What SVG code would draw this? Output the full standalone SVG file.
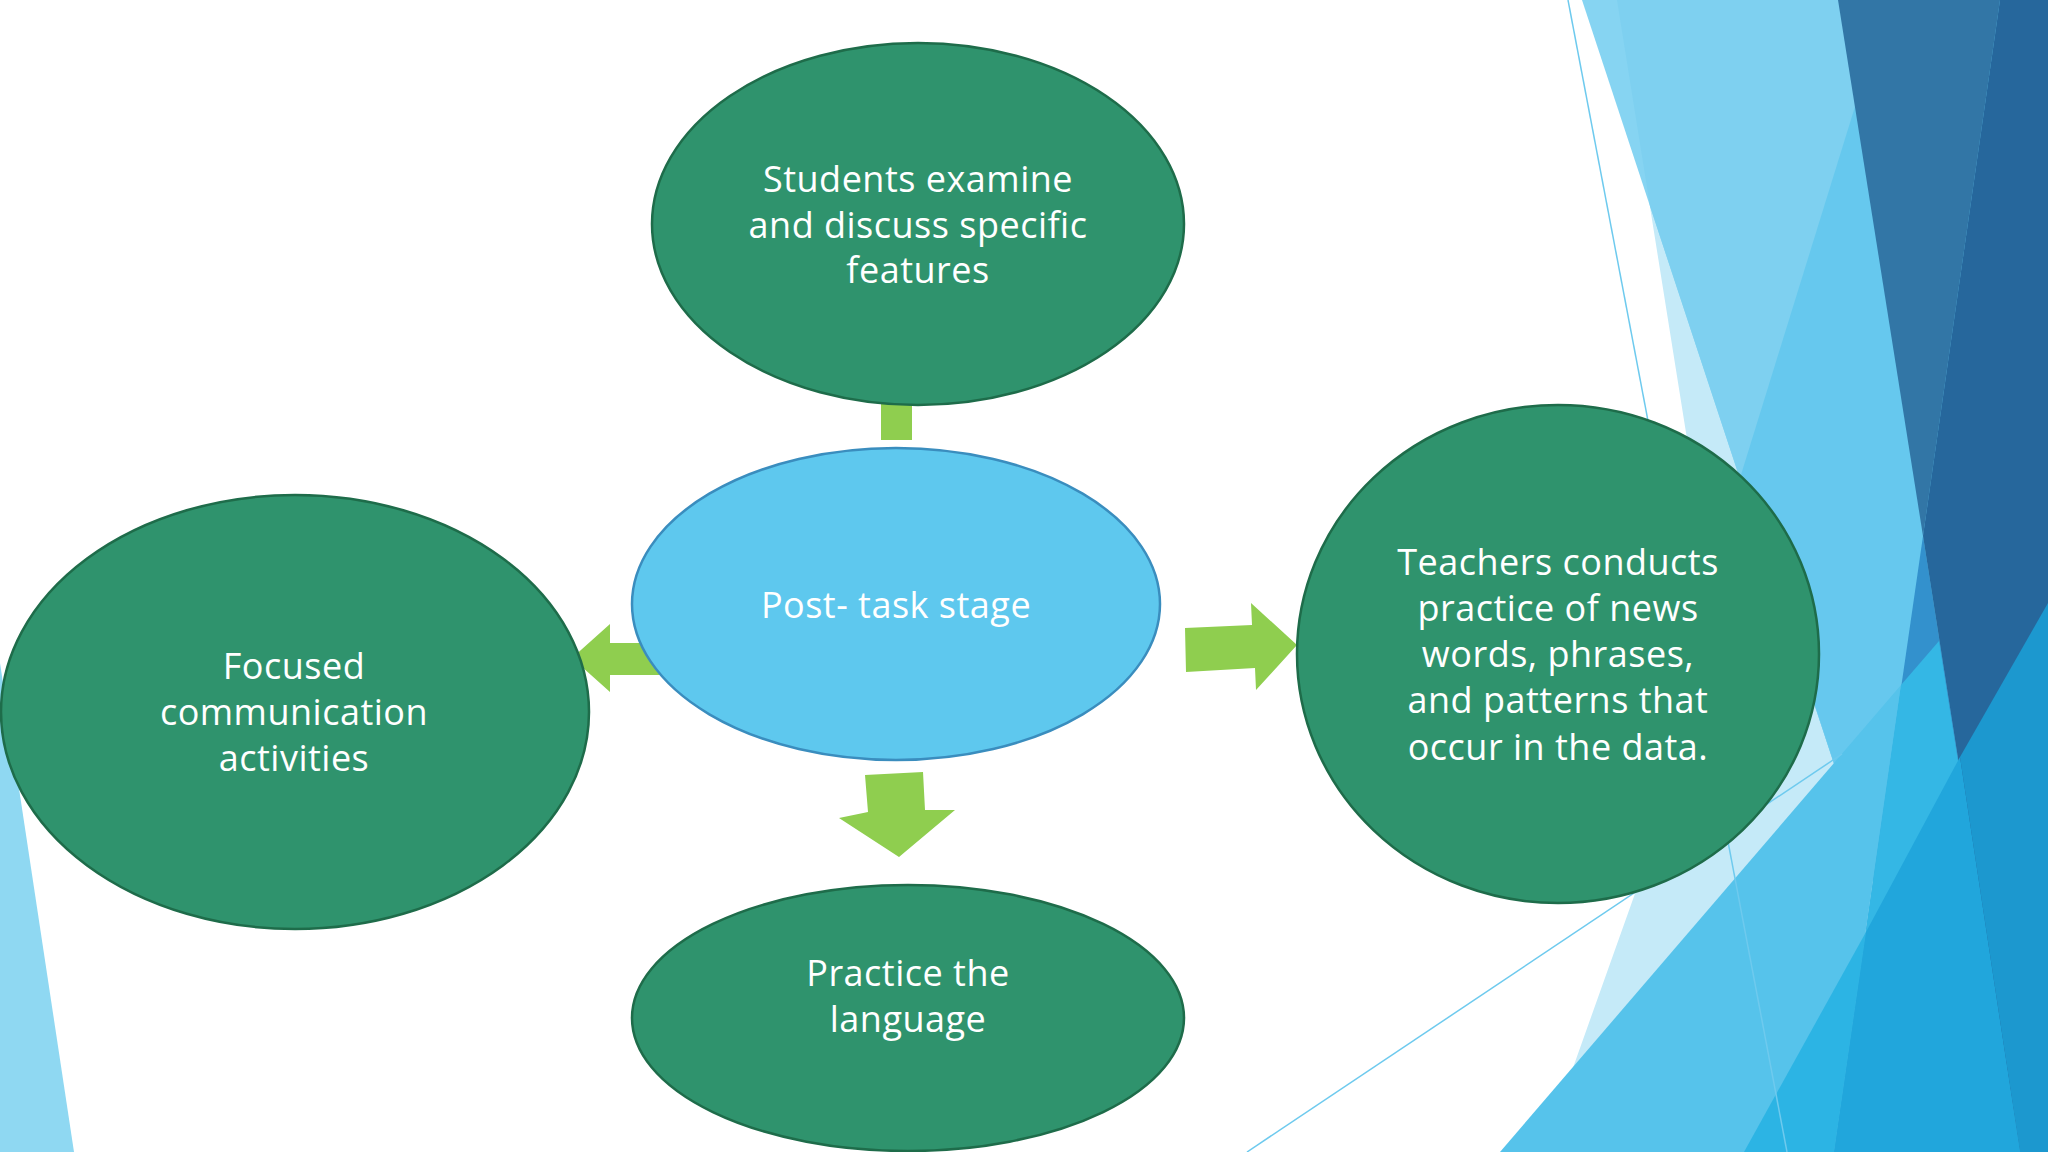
<svg xmlns="http://www.w3.org/2000/svg" width="2048" height="1152" viewBox="0 0 2048 1152">
<style>
.node{fill:#2f936d;stroke:#1e6c4a;stroke-width:2.5}
.center{fill:#5ec8ee;stroke:#3a8dbe;stroke-width:2.5}
.lbl{font-family:"Open Sans","Noto Sans","DejaVu Sans",sans-serif;font-size:36px;letter-spacing:0.5px;fill:#ffffff;text-anchor:middle}
.arrow{fill:#8fce4f}
.thin{stroke:#6ecaee;stroke-width:1.5;fill:none}
</style>
<rect x="0" y="0" width="2048" height="1152" fill="#ffffff"/>
<g id="background">
<polygon points="0,663 74,1152 0,1152" fill="#8fd8f2"/>
<polygon points="1617,0 1721,652 1543,1152 2048,1152 2048,0" fill="#c5eaf8"/>
<polygon points="1582,0 2048,0 2048,1152 1962,1152" fill="#86d4f2"/>
<polygon points="1617,0 1650,206 1962,1152 2048,1152 2048,0" fill="#7ed0f0"/>
<polygon points="1888,0 1740,478 1962,1152 2048,1152 2048,0" fill="#66c8ee"/>
<polygon points="1923,536 2020,1152 1834,1152" fill="#3391cd"/>
<polygon points="1838,0 2000,0 1923,536" fill="#3276a6"/>
<polygon points="2000,0 2048,0 2048,1152 2020,1152 1923,536" fill="#26679c"/>
<polygon points="1500,1152 1901,685 1834,1152" fill="#56c3eb"/>
<polygon points="1901,685 1939,641 2020,1152 1834,1152" fill="#34b7e5"/>
<polygon points="1866,932 1834,1152 1744,1152" fill="#2cb4e4"/>
<polygon points="1960,757 2020,1152 1834,1152 1866,932" fill="#21a6dc"/>
<polygon points="2048,603 2048,1152 2020,1152 1960,757" fill="#1c98cf"/>
<line class="thin" x1="1568" y1="0" x2="1787" y2="1152"/>
<line class="thin" x1="1247" y1="1152" x2="1842" y2="754"/>
</g>
<g id="connectors">
<polygon class="arrow" points="881,440 912,440 912,380 930,380 896,340 862,380 881,380"/>
<polygon class="arrow" points="660,643 660,675 610,675 610,692 572,658 610,624 610,643"/>
<polygon class="arrow" points="1185,628 1252,625 1251,603 1297,645 1256,690 1255,668 1186,672"/>
<polygon class="arrow" points="865,775 923,772 925,810 955,810 899,857 839,818 868,812"/>
</g>
<g id="node-top">
<ellipse class="node" cx="918" cy="224" rx="266" ry="181"/>
<text class="lbl" x="918" y="192">Students examine</text>
<text class="lbl" x="918" y="238">and discuss specific</text>
<text class="lbl" x="918" y="283">features</text>
</g>
<g id="node-left">
<ellipse class="node" cx="295" cy="712" rx="294" ry="217"/>
<text class="lbl" x="294" y="679">Focused</text>
<text class="lbl" x="294" y="725">communication</text>
<text class="lbl" x="294" y="771">activities</text>
</g>
<g id="node-right">
<ellipse class="node" cx="1558" cy="654" rx="261" ry="249"/>
<text class="lbl" x="1558" y="575">Teachers conducts</text>
<text class="lbl" x="1558" y="621">practice of news</text>
<text class="lbl" x="1558" y="667">words, phrases,</text>
<text class="lbl" x="1558" y="713">and patterns that</text>
<text class="lbl" x="1558" y="760">occur in the data.</text>
</g>
<g id="node-bottom">
<ellipse class="node" cx="908" cy="1018" rx="276" ry="133"/>
<text class="lbl" x="908" y="986">Practice the</text>
<text class="lbl" x="908" y="1032">language</text>
</g>
<g id="node-center">
<ellipse class="center" cx="896" cy="604" rx="264" ry="156"/>
<text class="lbl" x="896" y="618">Post- task stage</text>
</g>
</svg>
